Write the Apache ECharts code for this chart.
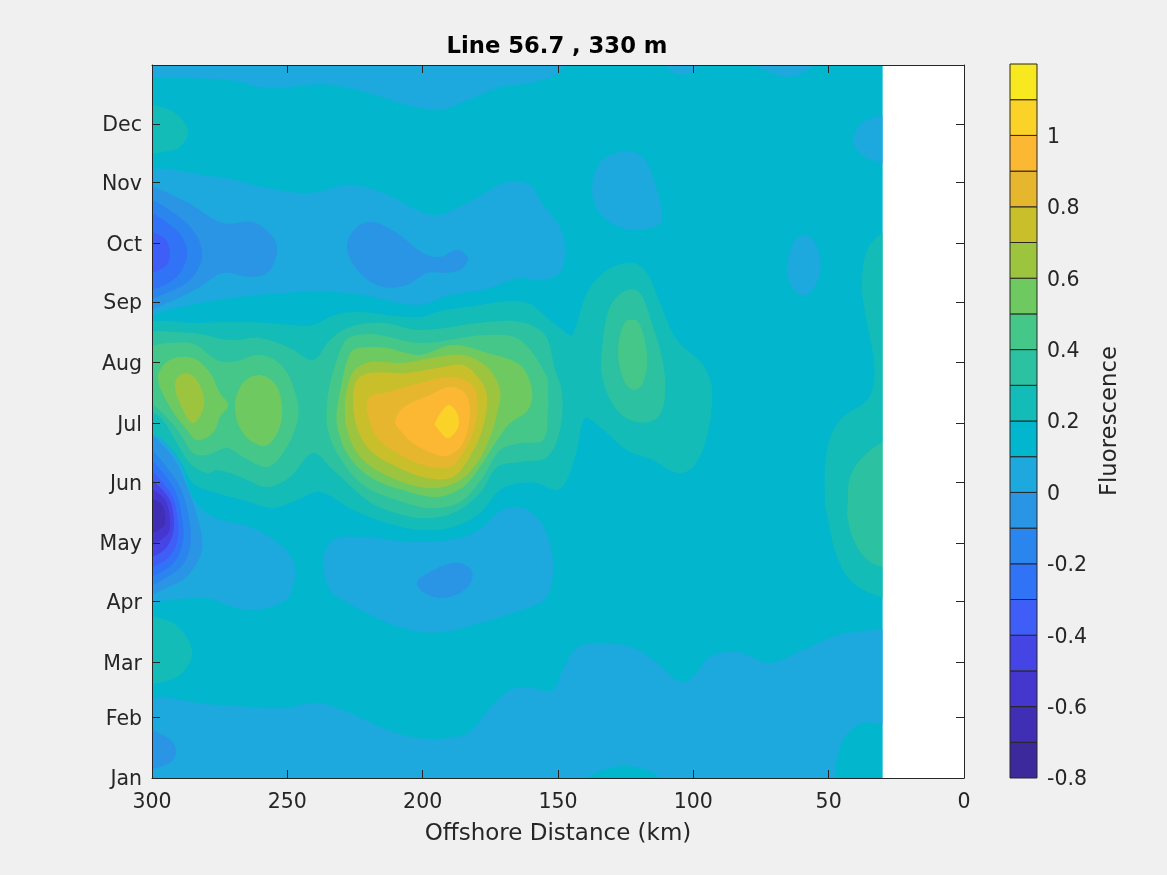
<!DOCTYPE html>
<html>
<head>
<meta charset="utf-8">
<title>Line 56.7 , 330 m</title>
<script src="https://cdn.jsdelivr.net/npm/echarts@6/dist/echarts.min.js"></script>
<style>
html, body { margin: 0; padding: 0; background: #f0f0f0; }
#main { width: 1167px; height: 875px; }
</style>
</head>
<body>
<div id="main"></div>
<script>
// axis ticks: day of year for each month
var monthNames = ['Jan', 'Feb', 'Mar', 'Apr', 'May', 'Jun', 'Jul', 'Aug', 'Sep', 'Oct', 'Nov', 'Dec'];
var monthDays = [1, 32, 60, 91, 121, 152, 182, 213, 244, 274, 305, 335];
var barTicks = [-0.8, -0.6, -0.4, -0.2, 0, 0.2, 0.4, 0.6, 0.8, 1];

// contour levels (lower edge of each band) and their colours
var levels = [-0.8, -0.7, -0.6, -0.5, -0.4, -0.3, -0.2, -0.1, 0, 0.1, 0.2, 0.3, 0.4, 0.5, 0.6, 0.7, 0.8, 0.9, 1, 1.1];
var levelColors = ['#3C2A9C', '#402FB4', '#4436CE', '#4545E6', '#3F5EF8', '#3173F7', '#2B85EE', '#2A95E5', '#1DA9DE', '#02B6CE',
    '#13BCB7', '#2CC2A1', '#45C78A', '#6ECA60', '#9DC43E', '#C9BF2A', '#E6B62E', '#FDB833', '#FBD228', '#F8E81F'];

// contours, [km, day]. points past 300 / past 30 km just carry the line over the edge
var dataArea = [[30, 1], [300, 1], [300, 365], [30, 365]];
var noData = [[0, 1], [30, 1], [30, 365], [0, 365]];

var topStrip = [[310, 372], [310, 358], [300, 358.4], [271, 357.3], [257.5, 353.2], [233, 354.8], [196, 342], [183.5, 347], [171.5, 353.7], [160.3, 355.8], [150, 361], [146, 372]];
var topPatchA = [[112, 368], [108, 362], [104, 360], [100, 362], [97, 368]];
var topPatchB = [[81, 368], [72, 361.5], [66, 359], [60, 360.5], [54, 368]];
var fallBand = [[305, 308], [276, 307.8], [257.5, 302.2], [241.6, 299.6], [226.9, 303.7], [214.7, 299.6], [196.2, 288.4], [183.6, 294.5], [168.8, 305.3], [160.3, 303.7], [156.7, 296], [149.3, 282.3], [147.4, 270.5], [149.3, 258.8], [156.7, 255.2], [164, 256.2], [177.7, 250.1], [189.9, 247.6], [202.1, 242.5], [226.9, 248.6], [251.6, 248.6], [276, 245], [294.5, 239.9], [305, 237]];
var octA = [[305, 302], [288.5, 296], [273.8, 284.3], [262.7, 284.8], [255.3, 277.2], [253.8, 269], [257.5, 258.8], [263.8, 256.8], [273.8, 258.8], [282.3, 251.7], [294.5, 243.5], [305, 240]];
var octB = [[305, 296], [288.5, 285.9], [281.5, 270.5], [284.9, 256.8], [294.5, 248.6], [305, 246]];
var octC = [[305, 290], [292.2, 282.3], [287, 270.5], [289.7, 258.8], [297, 251.7], [305, 251]];
var octD = [[305, 279.7], [296, 277.2], [293.4, 269.5], [295.2, 261.9], [305, 259.3]];
var octMid = [[228, 272], [224.3, 282.3], [218.4, 284.8], [209.5, 279.2], [199.9, 269], [193.6, 267], [187.3, 270.5], [183.3, 266.5], [186.2, 260.3], [192.5, 258.8], [198.4, 258.8], [205.8, 252.7], [214.7, 251.7], [223.2, 258.8]];
var novPatch = [[137.4, 301.2], [134.5, 315], [127.1, 320.6], [119.7, 319], [114.9, 307.8], [111.6, 285.9], [116, 281.8], [126, 281.8], [134.5, 289.4]];
var decRight = [[41, 326.7], [37.3, 335.9], [25, 338.4], [25, 315], [35.8, 317.5], [39.5, 321.6]];
var octRight = [[65.4, 261.9], [62.4, 275.6], [58, 278.2], [53.9, 270.5], [53.2, 258.8], [56.9, 248.6], [60.6, 247.6], [64.3, 253.7]];
var winter = [[310, -10], [305, 38.8], [276, 38.3], [251.6, 36.7], [239, 39.3], [226.9, 34.2], [214.7, 26.5], [202.1, 21.4], [189.9, 21.4], [182.5, 24.5], [175.1, 36.7], [167.7, 45.9], [160.3, 47], [151.8, 45.9], [148.2, 56.1], [143, 67.4], [134.5, 69.9], [122.3, 67.4], [113.4, 59.7], [104.9, 50], [100.1, 52.6], [93.8, 62.8], [83.9, 65.3], [71.7, 59.7], [59.5, 66.3], [43.2, 75], [22, 72.5], [22, 29], [37.3, 29.1], [44, 21.9], [46.9, 11.7], [50.2, -5]];
var janBase = [[143, -4], [137, 3], [130.8, 6.1], [125.2, 7.1], [119.7, 6.1], [114, 3], [110, -4]];
var janLeft = [[305, 25.5], [294.5, 21.9], [291.1, 15.3], [293.4, 8.7], [305, 6.1]];
var marBlob = [[305, 81.7], [292.2, 80.1], [285.2, 66.3], [288.5, 55.1], [296, 50], [305, 50]];
var decBlob = [[305, 343], [293.4, 342], [286.7, 331.8], [289.7, 323.1], [296, 320.6], [305, 320.6]];
var springLeft = [[305, 182.2], [290.8, 164.9], [284.9, 144.5], [277.5, 134.2], [263.8, 129.1], [251.6, 118.9], [247.2, 108.7], [248.3, 97], [251.6, 90.8], [261.2, 86.8], [270.1, 88.3], [279.7, 92.9], [293.4, 91.9], [305, 90.8]];
var mayA = [[305, 178.7], [293.4, 166.9], [287, 149.6], [282.3, 129.1], [281.5, 117.4], [285.9, 105.7], [292.2, 99.5], [305, 95.4]];
var mayB = [[305, 171], [291.1, 153.1], [285.9, 130.2], [286.7, 114.8], [291.9, 105.7], [305, 99.5]];
var mayC = [[305, 165.9], [292.6, 150.6], [288.5, 130.2], [289.3, 117.4], [294.1, 108.2], [305, 103.6]];
var mayD = [[305, 160.8], [293.4, 147], [290.4, 131.7], [291.1, 120], [296, 111.3], [305, 108.7]];
var mayE = [[305, 155.7], [294.5, 145.5], [291.9, 132.7], [293, 122.5], [297, 115.9], [305, 113.3]];
var mayF = [[305, 149.6], [296, 144.5], [293.4, 133.7], [294.5, 125], [305, 118.4]];
var mayG = [[305, 144.5], [297, 141.4], [295.2, 135.3], [296, 129.1], [305, 125]];
var springMid = [[236.8, 110.8], [233.1, 122.5], [222, 124], [203.6, 121.5], [186.2, 123.5], [177.7, 129.1], [172.5, 136.3], [165.1, 139.3], [157.8, 134.2], [153, 120.9], [151.8, 107.2], [154.1, 93.4], [160.3, 88.3], [177.7, 80.6], [192.5, 75.5], [204.7, 76.6], [216.9, 82.7], [229.4, 91.9], [234.2, 97]];
var aprInner = [[202.1, 101], [197.3, 106.2], [188.8, 110.8], [182.5, 108.2], [181.8, 102.1], [186.2, 95.4], [193.6, 92.9], [199.9, 96]];
var rightOuter = [[22, 282], [30, 279.2], [35.8, 270.5], [37.7, 255.2], [37.3, 245], [35.5, 231.2], [33.3, 214.4], [33.3, 202.6], [35.8, 194], [45.8, 183.8], [50.6, 168.4], [51.4, 142.9], [50.2, 132.7], [46.9, 113.8], [41, 100.5], [30, 92.9], [22, 90]];
var rightInner = [[22, 178], [30, 172.5], [37.3, 164.9], [42.1, 154.7], [42.9, 142.9], [42.9, 132.7], [39.5, 118.9], [34.7, 111.3], [30, 108.7], [22, 105]];
var warmOuter = [[305, 230.7], [282.3, 233.3], [263.8, 233.8], [247.9, 232.3], [240.5, 232.3], [232.4, 237.4], [223.2, 238.9], [210.2, 236.9], [201, 236.3], [193.6, 239.4], [178.8, 242.5], [167.7, 244.5], [160.3, 243], [154.8, 236.9], [148.2, 229.7], [144.8, 227.2], [139.3, 248.6], [131.9, 260.3], [122.3, 263.9], [117.1, 258.8], [112.3, 243.5], [106, 224.6], [96.4, 211.8], [93.1, 199.1], [95, 175.1], [100.1, 159.8], [106, 156.7], [114.9, 163.3], [124.5, 168.4], [134.5, 180.2], [140, 184.8], [143, 168.4], [146.7, 153.1], [150.4, 148], [157.8, 151.6], [164, 151.6], [171.4, 148], [178.8, 136.3], [188.8, 129.1], [201, 127.6], [213.2, 131.2], [225.7, 137.8], [237.9, 147], [246.4, 142.9], [255.3, 138.8], [266.4, 142.9], [277.5, 147], [284.9, 151.6], [289.7, 163.3], [296, 173.5], [305, 182.2]];
var warmSecond = [[305, 225.6], [286, 228.2], [271.2, 224.6], [260.1, 225.6], [249, 220.5], [240.5, 214.4], [234.2, 224.6], [226.9, 231.2], [214.7, 233.3], [201, 229.7], [176.2, 233.8], [164, 233.8], [154.8, 227.2], [151.1, 209.3], [148.5, 197.5], [149.3, 178.7], [154.1, 164.9], [164, 162.3], [172.5, 159.8], [178.8, 146.5], [188.8, 136.3], [201, 133.7], [213.2, 137.8], [220.6, 142.9], [233.1, 158.2], [240.5, 166.9], [249, 154.7], [257.5, 149.6], [266.4, 154.2], [275.6, 158.2], [279.7, 156.7], [286, 161.8], [290.8, 172], [297, 185.3], [305, 191.4]];
var leftThird = [[305, 218], [286, 223.1], [276, 214.4], [270.1, 213.4], [260.1, 216.9], [251.6, 210.8], [246.4, 194], [246.4, 182.2], [251.6, 166.9], [257.5, 159.8], [266.4, 164.9], [272.3, 169.5], [279.7, 165.9], [284.9, 166.9], [289.7, 177.1], [296, 187.3], [305, 199.1]];
var leftBlobA = [[297.8, 205.7], [293.4, 214.4], [284.9, 215.4], [278.6, 207.8], [274.9, 197.5], [271.9, 191.4], [274.9, 185.3], [277.5, 177.1], [283.4, 173.5], [287, 178.7], [293.4, 190.4]];
var leftBlobB = [[269.3, 190.4], [266.4, 202.6], [260.1, 206.7], [253.8, 200.6], [252, 185.3], [255.3, 173.5], [259.4, 170.5], [266.4, 177.1]];
var leftCore = [[291.5, 200.6], [289.7, 206.7], [285.2, 206.7], [281.2, 197.5], [281.2, 188.9], [284.9, 182.2], [288.5, 188.9]];
var mid04 = [[235.3, 192.4], [233.9, 204], [231.7, 214.4], [229.5, 222], [226.9, 226.1], [218, 227.5], [201, 223.1], [176.2, 227.2], [164, 224.6], [154.1, 205.7], [153.7, 197.5], [153.7, 188.9], [155.5, 173.5], [164, 172], [171.4, 168.4], [177.7, 154.7], [186.2, 141.9], [197.3, 138.8], [209.5, 142.9], [222, 150.6], [230.5, 164.4], [235, 178.7]];
var mid05 = [[231.7, 188.9], [229.4, 205.7], [228, 213.5], [225.7, 219.5], [219, 221], [213.2, 220.5], [201, 217], [188.8, 222], [176.2, 218], [164, 211.8], [159.6, 199.1], [161.1, 188.9], [167.7, 182.2], [172.5, 173.5], [178.8, 159.8], [185.1, 149.6], [194.7, 144.5], [207.3, 148], [219.5, 154.7], [227.6, 165.9], [231.3, 178.7]];
var mid06 = [[228.7, 192.4], [227.5, 202], [225, 209.5], [219.5, 213.4], [207.3, 212.9], [194.7, 215.9], [185.1, 216.9], [176.2, 210.8], [171.4, 199.1], [172.2, 188.9], [175.1, 175.1], [179.9, 161.8], [187.3, 152.1], [197.3, 149], [209.5, 153.1], [222, 163.3], [227.6, 177.1]];
var mid07 = [[225.7, 194], [224.3, 204.2], [219.5, 207.8], [205.8, 207.8], [194.7, 210.3], [185.1, 211.8], [178.8, 204.2], [176.2, 195.5], [177.7, 180.2], [181.8, 166.9], [188.8, 154.7], [198.4, 154.2], [209.5, 159.8], [219.5, 168.4], [224.3, 180.2]];
var mid08 = [[220.6, 188.9], [219.5, 195.5], [213.2, 198], [201, 202.6], [189.9, 205.7], [182.5, 202.6], [179.9, 195.5], [180.7, 180.2], [185.1, 166.9], [189.9, 159.8], [199.9, 160.8], [209.5, 166.9], [216.9, 175.1]];
var mid09 = [[210.2, 182.7], [207.3, 189.9], [197.3, 196.5], [189.9, 200.6], [184.4, 197.5], [182.5, 187.3], [185.1, 172], [189.9, 165.9], [194.7, 165.9], [203.6, 172], [208.4, 178.7]];
var mid10 = [[195.4, 182.2], [190.6, 191.4], [187.3, 187.3], [186.9, 180.2], [190.6, 174.6], [194.7, 179.7]];
var tongue03 = [[133.7, 219.5], [130.8, 241.4], [124.5, 250.1], [119.7, 248.6], [114.9, 231.2], [111.2, 212.9], [110.5, 195.5], [113.4, 184.8], [120.8, 182.7], [128.2, 188.9], [133.4, 204.2]];
var tongue04 = [[127.8, 218], [125.2, 233.8], [120.4, 233.8], [117.1, 215.9], [118.6, 202.6], [121.6, 199.1], [125.2, 202.6]];

// painted in this order, later ones on top
var contours = [
    [0.1, dataArea],
    [0, topStrip], [0, topPatchA], [0, topPatchB], [0, fallBand], [0, novPatch], [0, decRight], [0, octRight],
    [0, winter], [0.1, janBase], [0, springLeft], [0, springMid],
    [-0.1, octA], [-0.2, octB], [-0.3, octC], [-0.4, octD], [-0.1, octMid], [-0.1, janLeft], [-0.1, aprInner],
    [-0.1, mayA], [-0.2, mayB], [-0.3, mayC], [-0.4, mayD], [-0.5, mayE], [-0.6, mayF], [-0.7, mayG],
    [0.2, marBlob], [0.2, decBlob], [0.2, rightOuter], [0.3, rightInner],
    [0.2, warmOuter], [0.3, warmSecond], [0.4, leftThird], [0.5, leftBlobA], [0.5, leftBlobB], [0.6, leftCore],
    [0.4, mid04], [0.5, mid05], [0.6, mid06], [0.7, mid07], [0.8, mid08], [0.9, mid09], [1, mid10],
    [0.3, tongue03], [0.4, tongue04],
    [null, noData]
];

var fontName = 'DejaVu Sans';
var inkColor = '#262626';

// label text sits at the bottom of a taller line, so it lands a little under the tick like the original
var lowLabel = { t: { fontFamily: fontName, fontSize: 20.5, color: inkColor, lineHeight: 25, verticalAlign: 'bottom' } };

var myChart = echarts.init(document.getElementById('main'));

function renderContour(params, api) {
    var c = contours[params.dataIndex];
    var points = c[1].map(function (p) { return api.coord(p); });
    var straight = c[1] === dataArea || c[1] === noData;
    return {
        type: 'polygon',
        shape: { points: points, smooth: straight ? 0 : 0.35 },
        style: { fill: c[0] === null ? '#fff' : levelColors[levels.indexOf(c[0])] }
    };
}

function renderBarCell(params, api) {
    var i = params.dataIndex;
    var a = api.coord([0, levels[i]]);
    var b = api.coord([1, i + 1 < levels.length ? levels[i + 1] : 1.2]);
    return {
        type: 'rect',
        shape: { x: a[0], y: b[1], width: b[0] - a[0], height: a[1] - b[1] },
        style: { fill: levelColors[i], stroke: inkColor, lineWidth: 1 }
    };
}

var option = {
    animation: false,
    backgroundColor: '#f0f0f0',
    title: {
        text: 'Line 56.7 , 330 m',
        left: 552,
        textAlign: 'center',
        top: 31,
        textStyle: { fontFamily: fontName, fontSize: 22.7, fontWeight: 'bold', color: '#000' }
    },
    grid: [
        { left: 152, top: 65, width: 812, height: 713, show: true, backgroundColor: '#fff', borderWidth: 0 },
        { left: 1010, top: 64, width: 27, height: 714, show: false }
    ],
    xAxis: [
        {
            type: 'value', gridIndex: 0, min: 0, max: 300, interval: 50, inverse: true, position: 'bottom', z: 10,
            name: 'Offshore Distance (km)', nameLocation: 'middle', nameGap: 45,
            nameTextStyle: { fontFamily: fontName, fontSize: 23, color: inkColor },
            axisLine: { show: true, onZero: false, lineStyle: { color: inkColor, width: 1 } },
            axisTick: { show: true, inside: true, length: 8, lineStyle: { color: inkColor } },
            axisLabel: { fontFamily: fontName, fontSize: 20.5, color: inkColor, margin: 14 },
            splitLine: { show: false }
        },
        {
            type: 'value', gridIndex: 0, min: 0, max: 300, interval: 50, inverse: true, position: 'top', z: 10,
            axisLine: { show: true, onZero: false, lineStyle: { color: inkColor, width: 1 } },
            axisTick: { show: true, inside: true, length: 8, lineStyle: { color: inkColor } },
            axisLabel: { show: false },
            splitLine: { show: false }
        },
        { type: 'value', gridIndex: 1, min: 0, max: 1, show: false }
    ],
    yAxis: [
        {
            type: 'value', gridIndex: 0, min: 1, max: 365, position: 'left', z: 10,
            axisLine: { show: true, onZero: false, lineStyle: { color: inkColor, width: 1 } },
            axisTick: { show: true, inside: true, length: 8, customValues: monthDays, lineStyle: { color: inkColor } },
            axisLabel: {
                margin: 10, customValues: monthDays, rich: lowLabel,
                formatter: function (v) { return '{t|' + monthNames[monthDays.indexOf(v)] + '}'; }
            },
            splitLine: { show: false }
        },
        {
            type: 'value', gridIndex: 0, min: 1, max: 365, position: 'right', z: 10,
            axisLine: { show: true, onZero: false, lineStyle: { color: inkColor, width: 1 } },
            axisTick: { show: true, inside: true, length: 8, customValues: monthDays, lineStyle: { color: inkColor } },
            axisLabel: { show: false },
            splitLine: { show: false }
        },
        {
            type: 'value', gridIndex: 1, min: -0.8, max: 1.2, position: 'right', z: 10,
            name: 'Fluorescence', nameLocation: 'middle', nameRotate: 90, nameGap: 62,
            nameTextStyle: { fontFamily: fontName, fontSize: 22.8, color: inkColor },
            axisLine: { show: false, onZero: false },
            axisTick: { show: false },
            axisLabel: {
                margin: 10, customValues: barTicks, rich: lowLabel,
                formatter: function (v) { return '{t|' + v + '}'; }
            },
            splitLine: { show: false }
        }
    ],
    series: [
        {
            type: 'custom', xAxisIndex: 0, yAxisIndex: 0, clip: true, silent: true,
            renderItem: renderContour,
            data: contours.map(function (c) { return c[1][0]; })
        },
        {
            type: 'custom', xAxisIndex: 2, yAxisIndex: 2, silent: true,
            renderItem: renderBarCell,
            data: levels.map(function (v) { return [0, v]; })
        }
    ]
};
myChart.setOption(option);
</script>
</body>
</html>
